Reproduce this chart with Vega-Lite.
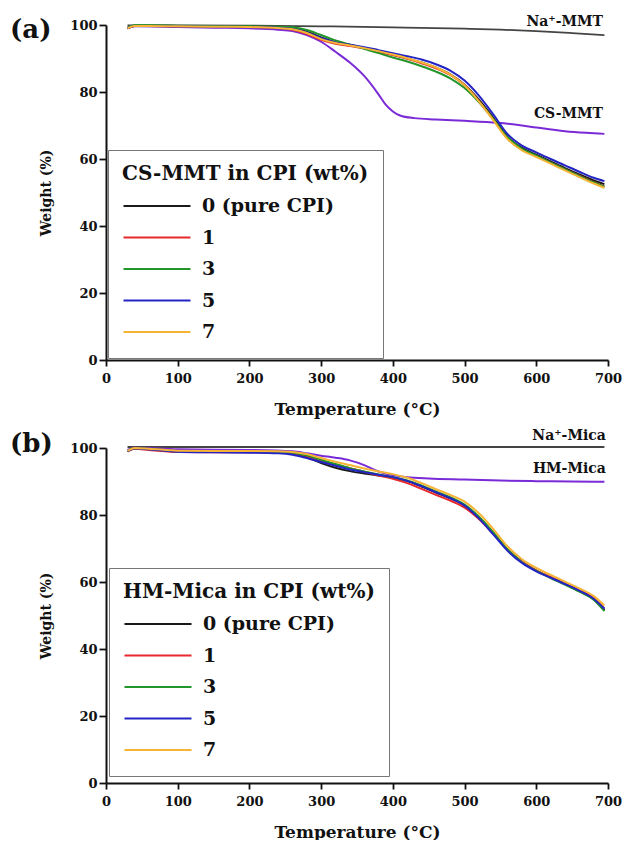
{
  "$schema": "https://vega.github.io/schema/vega-lite/v6.json",
  "padding": {"left": 10, "top": 14, "right": 8, "bottom": 0},
  "spacing": 11,
  "config": {
    "font": "DejaVu Serif",
    "view": {"stroke": null},
    "axis": {
      "labelFont": "DejaVu Serif", "labelFontWeight": "bold", "labelFontSize": 13, "labelColor": "#111",
      "titleFont": "DejaVu Serif", "titleFontWeight": "bold", "titleColor": "#111",
      "domainColor": "#111", "domainWidth": 2, "tickColor": "#111", "tickWidth": 1.8, "grid": false, "labelFlush": false
    },
    "legend": {
      "orient": "none", "strokeColor": "#777", "fillColor": "white", "padding": 14,
      "titleFont": "DejaVu Serif", "titleFontWeight": "bold", "titleFontSize": 20, "titleColor": "#111", "titleLimit": 400, "titlePadding": 10,
      "labelFont": "DejaVu Serif", "labelFontWeight": "bold", "labelFontSize": 19, "labelColor": "#111",
      "symbolType": "stroke", "symbolSize": 4489, "symbolStrokeWidth": 2.2, "labelOffset": 10, "clipHeight": 24, "rowPadding": 7.5
    },
    "title": {"font": "DejaVu Serif", "fontWeight": "bold", "fontSize": 26, "color": "#111", "anchor": "start", "frame": "group", "baseline": "alphabetic"}
  },
  "datasets": {
    "a": [
      {"s":"0 (pure CPI)","T":30,"W":99.1},{"s":"0 (pure CPI)","T":40,"W":99.8},{"s":"0 (pure CPI)","T":60,"W":99.8},{"s":"0 (pure CPI)","T":100,"W":99.7},{"s":"0 (pure CPI)","T":150,"W":99.6},{"s":"0 (pure CPI)","T":200,"W":99.5},{"s":"0 (pure CPI)","T":240,"W":99.3},{"s":"0 (pure CPI)","T":260,"W":99.0},{"s":"0 (pure CPI)","T":280,"W":98.0},{"s":"0 (pure CPI)","T":300,"W":96.3},{"s":"0 (pure CPI)","T":320,"W":94.8},{"s":"0 (pure CPI)","T":340,"W":94.0},{"s":"0 (pure CPI)","T":360,"W":93.1},{"s":"0 (pure CPI)","T":380,"W":92.1},{"s":"0 (pure CPI)","T":400,"W":91.1},{"s":"0 (pure CPI)","T":420,"W":90.0},{"s":"0 (pure CPI)","T":440,"W":88.8},{"s":"0 (pure CPI)","T":460,"W":87.3},{"s":"0 (pure CPI)","T":480,"W":85.3},{"s":"0 (pure CPI)","T":500,"W":82.2},{"s":"0 (pure CPI)","T":520,"W":77.7},{"s":"0 (pure CPI)","T":540,"W":72.3},{"s":"0 (pure CPI)","T":560,"W":66.6},{"s":"0 (pure CPI)","T":580,"W":63.3},{"s":"0 (pure CPI)","T":600,"W":61.3},{"s":"0 (pure CPI)","T":620,"W":59.3},{"s":"0 (pure CPI)","T":640,"W":57.3},{"s":"0 (pure CPI)","T":660,"W":55.4},{"s":"0 (pure CPI)","T":680,"W":53.6},{"s":"0 (pure CPI)","T":695,"W":52.5},
      {"s":"1","T":30,"W":99.0},{"s":"1","T":40,"W":99.7},{"s":"1","T":60,"W":99.7},{"s":"1","T":100,"W":99.6},{"s":"1","T":150,"W":99.5},{"s":"1","T":200,"W":99.4},{"s":"1","T":240,"W":99.1},{"s":"1","T":260,"W":98.6},{"s":"1","T":280,"W":97.4},{"s":"1","T":300,"W":95.6},{"s":"1","T":320,"W":94.4},{"s":"1","T":340,"W":93.7},{"s":"1","T":360,"W":93.0},{"s":"1","T":380,"W":92.0},{"s":"1","T":400,"W":91.0},{"s":"1","T":420,"W":89.9},{"s":"1","T":440,"W":88.6},{"s":"1","T":460,"W":87.1},{"s":"1","T":480,"W":85.1},{"s":"1","T":500,"W":82.0},{"s":"1","T":520,"W":77.2},{"s":"1","T":540,"W":71.8},{"s":"1","T":560,"W":66.2},{"s":"1","T":580,"W":62.9},{"s":"1","T":600,"W":60.9},{"s":"1","T":620,"W":58.9},{"s":"1","T":640,"W":56.9},{"s":"1","T":660,"W":55.0},{"s":"1","T":680,"W":53.1},{"s":"1","T":695,"W":51.8},
      {"s":"3","T":30,"W":99.2},{"s":"3","T":40,"W":99.9},{"s":"3","T":60,"W":99.9},{"s":"3","T":100,"W":99.8},{"s":"3","T":150,"W":99.7},{"s":"3","T":200,"W":99.6},{"s":"3","T":240,"W":99.5},{"s":"3","T":260,"W":99.3},{"s":"3","T":280,"W":98.5},{"s":"3","T":300,"W":97.0},{"s":"3","T":320,"W":95.4},{"s":"3","T":340,"W":94.2},{"s":"3","T":360,"W":92.9},{"s":"3","T":380,"W":91.6},{"s":"3","T":400,"W":90.3},{"s":"3","T":420,"W":89.1},{"s":"3","T":440,"W":87.7},{"s":"3","T":460,"W":86.1},{"s":"3","T":480,"W":84.1},{"s":"3","T":500,"W":81.2},{"s":"3","T":520,"W":77.0},{"s":"3","T":540,"W":71.9},{"s":"3","T":560,"W":66.4},{"s":"3","T":580,"W":63.0},{"s":"3","T":600,"W":61.0},{"s":"3","T":620,"W":58.9},{"s":"3","T":640,"W":56.9},{"s":"3","T":660,"W":54.9},{"s":"3","T":680,"W":53.0},{"s":"3","T":695,"W":51.7},
      {"s":"5","T":30,"W":99.0},{"s":"5","T":40,"W":99.7},{"s":"5","T":60,"W":99.7},{"s":"5","T":100,"W":99.6},{"s":"5","T":150,"W":99.5},{"s":"5","T":200,"W":99.4},{"s":"5","T":240,"W":99.2},{"s":"5","T":260,"W":98.8},{"s":"5","T":280,"W":97.8},{"s":"5","T":300,"W":96.1},{"s":"5","T":320,"W":94.8},{"s":"5","T":340,"W":94.1},{"s":"5","T":360,"W":93.4},{"s":"5","T":380,"W":92.5},{"s":"5","T":400,"W":91.6},{"s":"5","T":420,"W":90.7},{"s":"5","T":440,"W":89.7},{"s":"5","T":460,"W":88.3},{"s":"5","T":480,"W":86.4},{"s":"5","T":500,"W":83.4},{"s":"5","T":520,"W":78.9},{"s":"5","T":540,"W":73.3},{"s":"5","T":560,"W":67.4},{"s":"5","T":580,"W":64.0},{"s":"5","T":600,"W":62.0},{"s":"5","T":620,"W":60.0},{"s":"5","T":640,"W":58.1},{"s":"5","T":660,"W":56.2},{"s":"5","T":680,"W":54.4},{"s":"5","T":695,"W":53.4},
      {"s":"7","T":30,"W":99.0},{"s":"7","T":40,"W":99.7},{"s":"7","T":60,"W":99.7},{"s":"7","T":100,"W":99.6},{"s":"7","T":150,"W":99.5},{"s":"7","T":200,"W":99.4},{"s":"7","T":240,"W":99.1},{"s":"7","T":260,"W":98.7},{"s":"7","T":280,"W":97.6},{"s":"7","T":300,"W":95.8},{"s":"7","T":320,"W":94.6},{"s":"7","T":340,"W":93.9},{"s":"7","T":360,"W":93.1},{"s":"7","T":380,"W":92.2},{"s":"7","T":400,"W":91.2},{"s":"7","T":420,"W":90.1},{"s":"7","T":440,"W":88.8},{"s":"7","T":460,"W":87.3},{"s":"7","T":480,"W":85.2},{"s":"7","T":500,"W":82.0},{"s":"7","T":520,"W":77.2},{"s":"7","T":540,"W":71.6},{"s":"7","T":560,"W":65.9},{"s":"7","T":580,"W":62.6},{"s":"7","T":600,"W":60.6},{"s":"7","T":620,"W":58.6},{"s":"7","T":640,"W":56.6},{"s":"7","T":660,"W":54.6},{"s":"7","T":680,"W":52.7},{"s":"7","T":695,"W":51.4}
    ],
    "aclay": [
      {"s":"Na-MMT","T":30,"W":99.9},{"s":"Na-MMT","T":100,"W":99.9},{"s":"Na-MMT","T":200,"W":99.8},{"s":"Na-MMT","T":300,"W":99.6},{"s":"Na-MMT","T":400,"W":99.3},{"s":"Na-MMT","T":500,"W":98.9},{"s":"Na-MMT","T":550,"W":98.6},{"s":"Na-MMT","T":600,"W":98.2},{"s":"Na-MMT","T":650,"W":97.6},{"s":"Na-MMT","T":695,"W":97.0},
      {"s":"CS-MMT","T":30,"W":99.0},{"s":"CS-MMT","T":40,"W":99.6},{"s":"CS-MMT","T":100,"W":99.4},{"s":"CS-MMT","T":150,"W":99.2},{"s":"CS-MMT","T":200,"W":99.0},{"s":"CS-MMT","T":240,"W":98.6},{"s":"CS-MMT","T":260,"W":98.2},{"s":"CS-MMT","T":280,"W":97.0},{"s":"CS-MMT","T":300,"W":95.0},{"s":"CS-MMT","T":320,"W":92.0},{"s":"CS-MMT","T":340,"W":88.8},{"s":"CS-MMT","T":360,"W":84.8},{"s":"CS-MMT","T":380,"W":79.3},{"s":"CS-MMT","T":390,"W":76.2},{"s":"CS-MMT","T":400,"W":74.2},{"s":"CS-MMT","T":410,"W":73.0},{"s":"CS-MMT","T":430,"W":72.2},{"s":"CS-MMT","T":460,"W":71.8},{"s":"CS-MMT","T":500,"W":71.4},{"s":"CS-MMT","T":546,"W":70.8},{"s":"CS-MMT","T":580,"W":70.0},{"s":"CS-MMT","T":600,"W":69.4},{"s":"CS-MMT","T":640,"W":68.3},{"s":"CS-MMT","T":670,"W":67.8},{"s":"CS-MMT","T":695,"W":67.5}
    ],
    "alab": [
      {"T":693,"W":101.0,"label":"Na⁺-MMT"},
      {"T":693,"W":73.4,"label":"CS-MMT"}
    ],
    "b": [
      {"s":"0 (pure CPI)","T":30,"W":99.0},{"s":"0 (pure CPI)","T":40,"W":99.9},{"s":"0 (pure CPI)","T":60,"W":99.7},{"s":"0 (pure CPI)","T":100,"W":99.1},{"s":"0 (pure CPI)","T":150,"W":98.9},{"s":"0 (pure CPI)","T":200,"W":98.9},{"s":"0 (pure CPI)","T":240,"W":98.7},{"s":"0 (pure CPI)","T":260,"W":98.4},{"s":"0 (pure CPI)","T":280,"W":97.2},{"s":"0 (pure CPI)","T":300,"W":95.5},{"s":"0 (pure CPI)","T":320,"W":94.1},{"s":"0 (pure CPI)","T":340,"W":93.1},{"s":"0 (pure CPI)","T":360,"W":92.4},{"s":"0 (pure CPI)","T":380,"W":91.8},{"s":"0 (pure CPI)","T":400,"W":91.2},{"s":"0 (pure CPI)","T":420,"W":90.1},{"s":"0 (pure CPI)","T":440,"W":88.5},{"s":"0 (pure CPI)","T":460,"W":86.7},{"s":"0 (pure CPI)","T":480,"W":85.0},{"s":"0 (pure CPI)","T":500,"W":82.9},{"s":"0 (pure CPI)","T":520,"W":79.3},{"s":"0 (pure CPI)","T":540,"W":74.7},{"s":"0 (pure CPI)","T":560,"W":69.7},{"s":"0 (pure CPI)","T":580,"W":66.0},{"s":"0 (pure CPI)","T":600,"W":63.4},{"s":"0 (pure CPI)","T":620,"W":61.4},{"s":"0 (pure CPI)","T":640,"W":59.4},{"s":"0 (pure CPI)","T":660,"W":57.3},{"s":"0 (pure CPI)","T":680,"W":54.8},{"s":"0 (pure CPI)","T":695,"W":51.6},
      {"s":"1","T":30,"W":99.0},{"s":"1","T":40,"W":99.8},{"s":"1","T":60,"W":99.4},{"s":"1","T":100,"W":98.8},{"s":"1","T":150,"W":98.7},{"s":"1","T":200,"W":98.7},{"s":"1","T":240,"W":98.6},{"s":"1","T":260,"W":98.4},{"s":"1","T":280,"W":97.6},{"s":"1","T":300,"W":96.2},{"s":"1","T":320,"W":95.0},{"s":"1","T":340,"W":94.0},{"s":"1","T":360,"W":92.9},{"s":"1","T":380,"W":91.8},{"s":"1","T":400,"W":90.8},{"s":"1","T":420,"W":89.5},{"s":"1","T":440,"W":87.8},{"s":"1","T":460,"W":86.0},{"s":"1","T":480,"W":84.3},{"s":"1","T":500,"W":82.2},{"s":"1","T":520,"W":78.8},{"s":"1","T":540,"W":74.4},{"s":"1","T":560,"W":69.6},{"s":"1","T":580,"W":66.0},{"s":"1","T":600,"W":63.5},{"s":"1","T":620,"W":61.5},{"s":"1","T":640,"W":59.5},{"s":"1","T":660,"W":57.5},{"s":"1","T":680,"W":55.2},{"s":"1","T":695,"W":52.0},
      {"s":"3","T":30,"W":99.1},{"s":"3","T":40,"W":99.9},{"s":"3","T":60,"W":99.7},{"s":"3","T":100,"W":99.0},{"s":"3","T":150,"W":98.9},{"s":"3","T":200,"W":98.9},{"s":"3","T":240,"W":98.8},{"s":"3","T":260,"W":98.6},{"s":"3","T":280,"W":97.8},{"s":"3","T":300,"W":96.5},{"s":"3","T":320,"W":95.2},{"s":"3","T":340,"W":94.0},{"s":"3","T":360,"W":93.0},{"s":"3","T":380,"W":92.1},{"s":"3","T":400,"W":91.3},{"s":"3","T":420,"W":90.3},{"s":"3","T":440,"W":88.8},{"s":"3","T":460,"W":87.0},{"s":"3","T":480,"W":85.3},{"s":"3","T":500,"W":83.1},{"s":"3","T":520,"W":79.5},{"s":"3","T":540,"W":74.8},{"s":"3","T":560,"W":69.7},{"s":"3","T":580,"W":65.9},{"s":"3","T":600,"W":63.3},{"s":"3","T":620,"W":61.2},{"s":"3","T":640,"W":59.2},{"s":"3","T":660,"W":57.1},{"s":"3","T":680,"W":54.7},{"s":"3","T":695,"W":51.3},
      {"s":"5","T":30,"W":99.0},{"s":"5","T":40,"W":99.9},{"s":"5","T":60,"W":99.6},{"s":"5","T":100,"W":98.9},{"s":"5","T":150,"W":98.7},{"s":"5","T":200,"W":98.6},{"s":"5","T":240,"W":98.4},{"s":"5","T":260,"W":98.0},{"s":"5","T":280,"W":97.0},{"s":"5","T":300,"W":95.8},{"s":"5","T":320,"W":94.7},{"s":"5","T":340,"W":93.6},{"s":"5","T":360,"W":92.8},{"s":"5","T":380,"W":92.0},{"s":"5","T":400,"W":91.3},{"s":"5","T":420,"W":90.2},{"s":"5","T":440,"W":88.6},{"s":"5","T":460,"W":86.8},{"s":"5","T":480,"W":85.0},{"s":"5","T":500,"W":82.8},{"s":"5","T":520,"W":79.0},{"s":"5","T":540,"W":74.2},{"s":"5","T":560,"W":69.3},{"s":"5","T":580,"W":65.7},{"s":"5","T":600,"W":63.2},{"s":"5","T":620,"W":61.3},{"s":"5","T":640,"W":59.4},{"s":"5","T":660,"W":57.4},{"s":"5","T":680,"W":55.0},{"s":"5","T":695,"W":52.0},
      {"s":"7","T":30,"W":99.1},{"s":"7","T":40,"W":100.0},{"s":"7","T":60,"W":99.8},{"s":"7","T":100,"W":99.2},{"s":"7","T":150,"W":99.1},{"s":"7","T":200,"W":99.1},{"s":"7","T":240,"W":99.0},{"s":"7","T":260,"W":98.8},{"s":"7","T":280,"W":98.2},{"s":"7","T":300,"W":97.0},{"s":"7","T":320,"W":95.9},{"s":"7","T":340,"W":94.9},{"s":"7","T":360,"W":93.9},{"s":"7","T":380,"W":93.0},{"s":"7","T":400,"W":92.2},{"s":"7","T":420,"W":91.1},{"s":"7","T":440,"W":89.5},{"s":"7","T":460,"W":87.7},{"s":"7","T":480,"W":86.0},{"s":"7","T":500,"W":84.0},{"s":"7","T":520,"W":80.5},{"s":"7","T":540,"W":75.8},{"s":"7","T":560,"W":70.6},{"s":"7","T":580,"W":66.8},{"s":"7","T":600,"W":64.2},{"s":"7","T":620,"W":62.1},{"s":"7","T":640,"W":60.1},{"s":"7","T":660,"W":58.1},{"s":"7","T":680,"W":55.8},{"s":"7","T":695,"W":53.0}
    ],
    "bclay": [
      {"s":"Na-Mica","T":30,"W":100.3},{"s":"Na-Mica","T":200,"W":100.3},{"s":"Na-Mica","T":400,"W":100.3},{"s":"Na-Mica","T":600,"W":100.3},{"s":"Na-Mica","T":695,"W":100.3},
      {"s":"HM-Mica","T":30,"W":99.4},{"s":"HM-Mica","T":40,"W":100.1},{"s":"HM-Mica","T":100,"W":99.6},{"s":"HM-Mica","T":200,"W":99.4},{"s":"HM-Mica","T":260,"W":99.0},{"s":"HM-Mica","T":280,"W":98.4},{"s":"HM-Mica","T":300,"W":97.7},{"s":"HM-Mica","T":320,"W":97.1},{"s":"HM-Mica","T":340,"W":96.3},{"s":"HM-Mica","T":360,"W":94.9},{"s":"HM-Mica","T":380,"W":93.0},{"s":"HM-Mica","T":400,"W":91.9},{"s":"HM-Mica","T":420,"W":91.3},{"s":"HM-Mica","T":450,"W":90.9},{"s":"HM-Mica","T":500,"W":90.6},{"s":"HM-Mica","T":550,"W":90.3},{"s":"HM-Mica","T":600,"W":90.1},{"s":"HM-Mica","T":650,"W":90.0},{"s":"HM-Mica","T":695,"W":89.9}
    ],
    "blab": [
      {"T":697,"W":103.7,"label":"Na⁺-Mica"},
      {"T":697,"W":93.7,"label":"HM-Mica"}
    ]
  },
  "resolve": {"scale": {"color": "independent"}, "legend": {"color": "independent"}},
  "vconcat": [
    {
      "width": 502, "height": 335,
      "title": {"text": "(a)", "dx": -96, "offset": -28},
      "layer": [
        {
          "data": {"name": "aclay"},
          "transform": [{"filter": "datum.s === 'Na-MMT'"}],
          "mark": {"type": "line", "color": "#444", "strokeWidth": 1.8, "interpolate": "monotone"},
          "encoding": {
            "x": {"field": "T", "type": "quantitative", "scale": {"domain": [0, 700], "nice": false},
              "axis": {"values": [0,50,100,150,200,250,300,350,400,450,500,550,600,650,700], "labelExpr": "datum.value % 100 === 0 ? datum.label : ''",
                "tickSize": {"condition": {"test": "datum.value % 100 === 0", "value": 6}, "value": 4}, "labelPadding": 6,
                "title": "Temperature (°C)", "titleFontSize": 17, "titlePadding": 16}},
            "y": {"field": "W", "type": "quantitative", "scale": {"domain": [0, 100], "nice": false},
              "axis": {"values": [0,10,20,30,40,50,60,70,80,90,100], "labelExpr": "datum.value % 20 === 0 ? datum.label : ''",
                "tickSize": {"condition": {"test": "datum.value % 20 === 0", "value": 7}, "value": 4}, "labelPadding": 2,
                "title": "Weight (%)", "titleFontSize": 14, "titlePadding": 16}}
          }
        },
        {
          "data": {"name": "aclay"},
          "transform": [{"filter": "datum.s === 'CS-MMT'"}],
          "mark": {"type": "line", "color": "#7a2ad6", "strokeWidth": 2, "interpolate": "monotone"},
          "encoding": {
            "x": {"field": "T", "type": "quantitative"},
            "y": {"field": "W", "type": "quantitative"}
          }
        },
        {
          "data": {"name": "a"},
          "mark": {"type": "line", "strokeWidth": 2, "interpolate": "monotone"},
          "encoding": {
            "x": {"field": "T", "type": "quantitative"},
            "y": {"field": "W", "type": "quantitative"},
            "color": {"field": "s", "type": "nominal",
              "scale": {"domain": ["0 (pure CPI)", "1", "3", "5", "7"], "range": ["#1a1a1a", "#e8282c", "#22962a", "#2424c4", "#f5b435"]},
              "legend": {"title": "CS-MMT in CPI (wt%)", "legendX": 2, "legendY": 125}}
          }
        },
        {
          "data": {"name": "alab"},
          "mark": {"type": "text", "align": "right", "baseline": "middle", "font": "DejaVu Serif", "fontWeight": "bold", "fontSize": 14, "color": "#111"},
          "encoding": {
            "x": {"field": "T", "type": "quantitative"},
            "y": {"field": "W", "type": "quantitative"},
            "text": {"field": "label"}
          }
        }
      ]
    },
    {
      "width": 502, "height": 335,
      "title": {"text": "(b)", "dx": -96, "offset": -28},
      "layer": [
        {
          "data": {"name": "bclay"},
          "transform": [{"filter": "datum.s === 'Na-Mica'"}],
          "mark": {"type": "line", "color": "#444", "strokeWidth": 2, "interpolate": "monotone"},
          "encoding": {
            "x": {"field": "T", "type": "quantitative", "scale": {"domain": [0, 700], "nice": false},
              "axis": {"values": [0,50,100,150,200,250,300,350,400,450,500,550,600,650,700], "labelExpr": "datum.value % 100 === 0 ? datum.label : ''",
                "tickSize": {"condition": {"test": "datum.value % 100 === 0", "value": 6}, "value": 4}, "labelPadding": 6,
                "title": "Temperature (°C)", "titleFontSize": 17, "titlePadding": 16}},
            "y": {"field": "W", "type": "quantitative", "scale": {"domain": [0, 100], "nice": false},
              "axis": {"values": [0,10,20,30,40,50,60,70,80,90,100], "labelExpr": "datum.value % 20 === 0 ? datum.label : ''",
                "tickSize": {"condition": {"test": "datum.value % 20 === 0", "value": 7}, "value": 4}, "labelPadding": 2,
                "title": "Weight (%)", "titleFontSize": 14, "titlePadding": 16}}
          }
        },
        {
          "data": {"name": "bclay"},
          "transform": [{"filter": "datum.s === 'HM-Mica'"}],
          "mark": {"type": "line", "color": "#7a2ad6", "strokeWidth": 2, "interpolate": "monotone"},
          "encoding": {
            "x": {"field": "T", "type": "quantitative"},
            "y": {"field": "W", "type": "quantitative"}
          }
        },
        {
          "data": {"name": "b"},
          "mark": {"type": "line", "strokeWidth": 2, "interpolate": "monotone"},
          "encoding": {
            "x": {"field": "T", "type": "quantitative"},
            "y": {"field": "W", "type": "quantitative"},
            "color": {"field": "s", "type": "nominal",
              "scale": {"domain": ["0 (pure CPI)", "1", "3", "5", "7"], "range": ["#1a1a1a", "#e8282c", "#22962a", "#2424c4", "#f5b435"]},
              "legend": {"title": "HM-Mica in CPI (wt%)", "legendX": 3, "legendY": 120}}
          }
        },
        {
          "data": {"name": "blab"},
          "mark": {"type": "text", "align": "right", "baseline": "middle", "font": "DejaVu Serif", "fontWeight": "bold", "fontSize": 14, "color": "#111"},
          "encoding": {
            "x": {"field": "T", "type": "quantitative"},
            "y": {"field": "W", "type": "quantitative"},
            "text": {"field": "label"}
          }
        }
      ]
    }
  ]
}
